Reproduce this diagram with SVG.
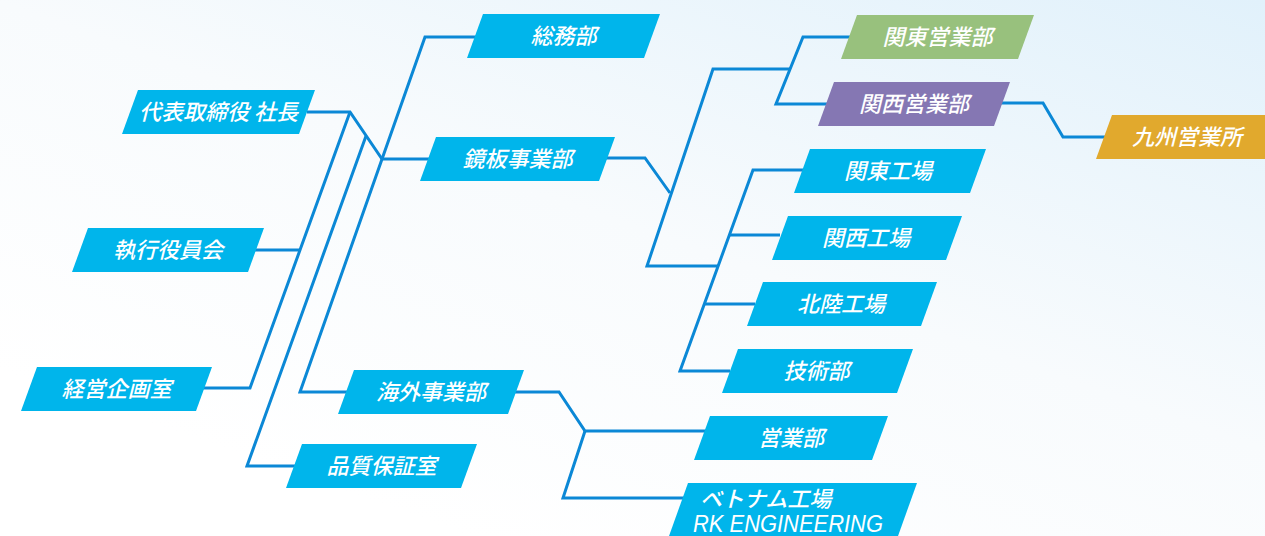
<svg xmlns="http://www.w3.org/2000/svg" width="1265" height="536" viewBox="0 0 1265 536">
<defs>
<linearGradient id="bg" x1="0.25" y1="0.9" x2="1" y2="0">
<stop offset="0" stop-color="#ffffff"/>
<stop offset="0.45" stop-color="#f8fbfd"/>
<stop offset="1" stop-color="#e1f1fb"/>
</linearGradient>
<style>
.box{fill:#00b5eb}
.green{fill:#98c17d}
.purple{fill:#8577b3}
.gold{fill:#e1a92d}
.lbl{font-family:"Noto Sans CJK JP","Noto Sans",sans-serif;font-size:22px;font-style:italic;font-weight:500;fill:#ffffff;text-anchor:middle}
.lat{font-family:"Liberation Sans","Noto Sans CJK JP",sans-serif;font-size:23px;font-style:italic;fill:#ffffff}
.conn path{fill:none;stroke:#0b88d6;stroke-width:3;stroke-linejoin:miter}
</style>
</defs>
<rect width="1265" height="536" fill="url(#bg)"/>
<g id="connectors" class="conn">
<path d="M307 112 H350 L382 159 H440"/>
<path d="M350 112 L250 388 H200"/>
<path d="M250 250 H300"/>
<path d="M366 136 L247 466 H300"/>
<path d="M480 37 H425 L300 392 H360"/>
<path d="M605 158 H645 L670 193"/>
<path d="M790 69 H713 L647 266 H718"/>
<path d="M850 37 H803 L776 104 H830"/>
<path d="M1000 103 H1043 L1063 137 H1110"/>
<path d="M805 170 H753 L680 371 H730"/>
<path d="M729 235 H780"/>
<path d="M704 304 H755"/>
<path d="M515 392 H559 L585 431 H715"/>
<path d="M585 431 L563 498 H700"/>
</g>
<g id="n-shacho"><path class="box" d="M138 90 H315 L299 134 H122 Z"/><text class="lbl" x="218.5" y="120">代表取締役 社長</text></g>
<g id="n-shikko"><path class="box" d="M88 228 H264 L248 272 H72 Z"/><text class="lbl" x="168" y="258">執行役員会</text></g>
<g id="n-keiei"><path class="box" d="M37 367 H212 L196 411 H21 Z"/><text class="lbl" x="116.5" y="397">経営企画室</text></g>
<g id="n-hinshitsu"><path class="box" d="M302 444 H477 L461 488 H286 Z"/><text class="lbl" x="381.5" y="474">品質保証室</text></g>
<g id="n-kaigai"><path class="box" d="M354 370 H524 L508 414 H338 Z"/><text class="lbl" x="431" y="400">海外事業部</text></g>
<g id="n-somu"><path class="box" d="M483 14 H660 L644 58 H467 Z"/><text class="lbl" x="563.5" y="44">総務部</text></g>
<g id="n-kagami"><path class="box" d="M436 137 H615 L599 181 H420 Z"/><text class="lbl" x="517.5" y="167">鏡板事業部</text></g>
<g id="n-kanto-eigyo"><path class="green" d="M857 15 H1034 L1018 59 H841 Z"/><text class="lbl" x="937.5" y="45">関東営業部</text></g>
<g id="n-kansai-eigyo"><path class="purple" d="M834 82 H1010 L994 126 H818 Z"/><text class="lbl" x="914" y="112">関西営業部</text></g>
<g id="n-kyushu"><path class="gold" d="M1112 115 H1290 L1274 159 H1096 Z"/><text class="lbl" x="1187" y="145">九州営業所</text></g>
<g id="n-kanto-kojo"><path class="box" d="M810 149 H986 L970 193 H794 Z"/><text class="lbl" x="888" y="179">関東工場</text></g>
<g id="n-kansai-kojo"><path class="box" d="M788 216 H962 L946 260 H772 Z"/><text class="lbl" x="866" y="246">関西工場</text></g>
<g id="n-hokuriku"><path class="box" d="M763 282 H937 L921 326 H747 Z"/><text class="lbl" x="841" y="312">北陸工場</text></g>
<g id="n-gijutsu"><path class="box" d="M738 349 H913 L897 393 H722 Z"/><text class="lbl" x="816.5" y="379">技術部</text></g>
<g id="n-eigyo"><path class="box" d="M710 416 H888 L872 460 H694 Z"/><text class="lbl" x="791" y="446">営業部</text></g>
<g id="n-vietnam"><path class="box" d="M688 483 H917 L893 550 H664 Z"/><text class="lbl" x="700" y="507" style="text-anchor:start">ベトナム工場</text><text class="lat" x="693" y="532" textLength="190" lengthAdjust="spacingAndGlyphs">RK ENGINEERING</text></g>
</svg>
